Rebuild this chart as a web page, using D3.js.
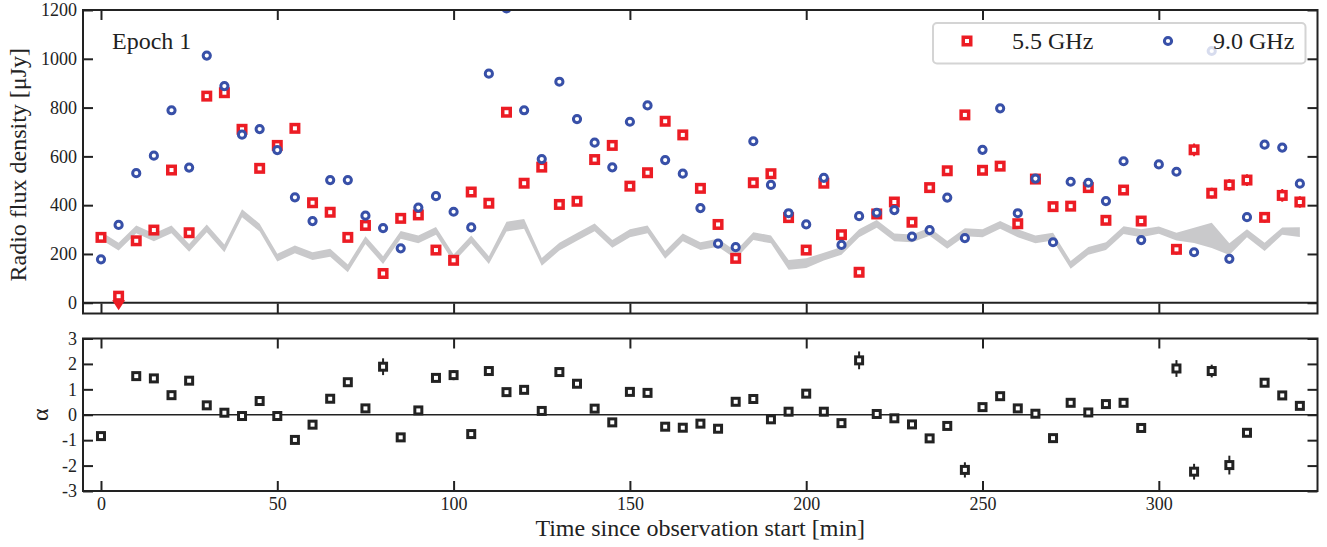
<!DOCTYPE html>
<html>
<head>
<meta charset="utf-8">
<script src="https://cdn.jsdelivr.net/npm/d3@7"></script>
<style>
  body { margin: 0; background: #fff; }
  svg { display: block; }
  text { font-family: "Liberation Serif", "Times New Roman", serif; fill: #222; }
</style>
</head>
<body>
<div id="chart"></div>
<script>
// Observation times [min]
const times = [
    0, 5, 10, 15, 20, 25, 30, 35, 40, 45,
    50, 55, 60, 65, 70, 75, 80, 85, 90, 95,
    100, 105, 110, 115, 120, 125, 130, 135, 140, 145,
    150, 155, 160, 165, 170, 175, 180, 185, 190, 195,
    200, 205, 210, 215, 220, 225, 230, 235, 240, 245,
    250, 255, 260, 265, 270, 275, 280, 285, 290, 295,
    300, 305, 310, 315, 320, 325, 330, 335, 340
];

// 5.5 GHz flux density [uJy] (null = no point)
const flux55 = [
    268, 27, 254, 298, 544, 287, 847, 861, 711, 551,
    645, 715, 410, 371, 268, 317, 120, 346, 360, 216,
    174, 454, 408, 781, 490, 556, 403, 416, 587, 645,
    478, 533, 744, 688, 469, 321, 182, 492, 529, 349,
    216, 490, 279, 125, 364, 413, 330, 472, 541, 770,
    543, 560, 324, 507, 394, 396, 472, 338, 462, 335,
    null, 219, 627, 449, 483, 503, 350, 440, 413
];
const err55 = [
    0, 0, 0, 0, 0, 0, 0, 0, 0, 0,
    0, 0, 0, 0, 0, 0, 0, 0, 0, 0,
    0, 0, 0, 0, 0, 0, 0, 0, 0, 0,
    0, 0, 0, 0, 0, 0, 0, 0, 0, 0,
    0, 0, 0, 0, 0, 0, 0, 0, 0, 0,
    0, 0, 0, 0, 0, 0, 0, 0, 0, 0,
    0, 22, 26, 22, 24, 24, 22, 26, 24
];
// times where the 5.5 GHz value is an upper limit
const limits55 = [5];

// 9.0 GHz flux density [uJy]
const flux90 = [
    178, 319, 531, 603, 789, 554, 1013, 888, 689, 712,
    626, 432, 335, 503, 503, 357, 306, 223, 390, 437,
    373, 309, 939, 1207, 789, 589, 906, 753, 656, 555,
    742, 809, 585, 529, 388, 242, 228, 662, 483, 367,
    321, 512, 237, 355, 369, 380, 271, 298, 431, 265,
    627, 797, 367, 509, 248, 496, 492, 417, 580, 257,
    567, 537, 207, 1032, 180, 351, 648, 636, 488
];

// noise band (grey) lower / upper edge [uJy]
const bandLo = [
    259, 214, 285, 252, 285, 209, 289, 207, 351, 292,
    169, 203, 175, 189, 125, 241, 159, 262, 244, 279,
    166, 244, 159, 292, 303, 152, 214, 254, 293, 225,
    269, 285, 180, 252, 216, 230, 180, 257, 244, 135,
    142, 173, 197, 269, 307, 252, 248, 275, 221, 273,
    269, 303, 269, 244, 255, 139, 197, 216, 282, 269,
    283, 255, 245, 224, 196, 269, 212, 279, 270
];
const bandHi = [
    291, 246, 317, 284, 317, 241, 321, 239, 383, 324,
    201, 235, 207, 221, 157, 273, 191, 294, 276, 311,
    198, 276, 191, 332, 343, 184, 246, 286, 325, 257,
    301, 317, 212, 284, 248, 262, 212, 289, 276, 175,
    182, 205, 229, 301, 339, 284, 280, 307, 253, 305,
    301, 335, 301, 276, 287, 171, 229, 248, 314, 301,
    313, 287, 307, 328, 244, 301, 246, 309, 310
];

// spectral index alpha and its error
const alpha = [
    -0.84, null, 1.52, 1.43, 0.77, 1.34, 0.37, 0.08, -0.05, 0.54,
    -0.05, -0.99, -0.39, 0.63, 1.28, 0.25, 1.89, -0.89, 0.17, 1.45,
    1.56, -0.76, 1.72, 0.89, 0.98, 0.15, 1.68, 1.22, 0.24, -0.30,
    0.90, 0.86, -0.47, -0.51, -0.35, -0.55, 0.51, 0.62, -0.18, 0.12,
    0.83, 0.12, -0.33, 2.14, 0.03, -0.14, -0.38, -0.93, -0.44, -2.17,
    0.30, 0.73, 0.25, 0.04, -0.92, 0.47, 0.09, 0.42, 0.47, -0.52,
    null, 1.82, -2.24, 1.72, -1.98, -0.71, 1.26, 0.76, 0.35
];
const alphaErr = [
    0.1, 0, 0.1, 0.1, 0.1, 0.1, 0.1, 0.1, 0.1, 0.1,
    0.1, 0.1, 0.1, 0.1, 0.1, 0.1, 0.33, 0.1, 0.1, 0.1,
    0.2, 0.1, 0.12, 0.1, 0.1, 0.1, 0.1, 0.1, 0.1, 0.1,
    0.1, 0.1, 0.1, 0.1, 0.1, 0.1, 0.1, 0.1, 0.1, 0.1,
    0.1, 0.1, 0.1, 0.35, 0.1, 0.1, 0.1, 0.1, 0.1, 0.3,
    0.1, 0.1, 0.1, 0.1, 0.1, 0.1, 0.1, 0.1, 0.1, 0.1,
    0, 0.33, 0.31, 0.25, 0.37, 0.15, 0.15, 0.15, 0.15
];

const xTicks = [0, 50, 100, 150, 200, 250, 300];
const fluxTicks = [0, 200, 400, 600, 800, 1000, 1200];
const alphaTicks = [-3, -2, -1, 0, 1, 2, 3];
const seriesNames = ["5.5 GHz", "9.0 GHz"];

const RED = "#ec1c24", BLUE = "#3850a8", INK = "#222";

// layout
const width = 1327, height = 547;
const left = 83, right = 1317.5;
const top1 = 10, bot1 = 313.5, top2 = 338.5, bot2 = 491;

const x = d3.scaleLinear().domain([-5.1, 345]).range([left, right]);
const yF = d3.scaleLinear().domain([-44, 1200]).range([bot1, top1]);
const yA = d3.scaleLinear().domain([-3, 3]).range([bot2, top2]);

const svg = d3.select("#chart").append("svg")
    .attr("width", width)
    .attr("height", height);

svg.append("rect").attr("width", width).attr("height", height).attr("fill", "#fff");

svg.append("clipPath").attr("id", "clipTop")
    .append("rect")
    .attr("x", left).attr("y", top1)
    .attr("width", right - left).attr("height", bot1 - top1);

// rows of data
const rows = times.map((t, i) => ({
    t, f55: flux55[i], e55: err55[i], f90: flux90[i],
    lo: bandLo[i], hi: bandHi[i], a: alpha[i], ae: alphaErr[i]
}));

// ---------- top panel ----------
const topPanel = svg.append("g").attr("clip-path", "url(#clipTop)");

// noise band
topPanel.append("path")
    .datum(rows)
    .attr("fill", "#c9c9cb")
    .attr("d", d3.area()
        .x(d => x(d.t))
        .y0(d => yF(d.lo))
        .y1(d => yF(d.hi)));

// zero line
topPanel.append("line")
    .attr("x1", left).attr("x2", right)
    .attr("y1", yF(0)).attr("y2", yF(0))
    .attr("stroke", INK).attr("stroke-width", 2);

const red = rows.filter(d => d.f55 !== null);

// error bars on 5.5 GHz
topPanel.selectAll(".err55")
    .data(red.filter(d => d.e55 > 0))
    .enter().append("line")
    .attr("x1", d => x(d.t)).attr("x2", d => x(d.t))
    .attr("y1", d => yF(d.f55 - d.e55)).attr("y2", d => yF(d.f55 + d.e55))
    .attr("stroke", RED).attr("stroke-width", 2);

// upper limit arrows
topPanel.selectAll(".limit")
    .data(red.filter(d => limits55.includes(d.t)))
    .enter().append("path")
    .attr("fill", RED)
    .attr("d", d => {
        const cx = x(d.t), cy = yF(d.f55);
        return `M${cx - 6.5},${cy + 4}L${cx + 6.5},${cy + 4}L${cx},${cy + 14}Z`;
    });

// 5.5 GHz squares
topPanel.selectAll(".sq55")
    .data(red)
    .enter().append("rect")
    .attr("x", d => x(d.t) - 3.75)
    .attr("y", d => yF(d.f55) - 3.75)
    .attr("width", 7.5).attr("height", 7.5)
    .attr("fill", "#fff")
    .attr("stroke", RED).attr("stroke-width", 3.5);

// 9.0 GHz circles
topPanel.selectAll(".c90")
    .data(rows.filter(d => d.f90 !== null))
    .enter().append("circle")
    .attr("cx", d => x(d.t))
    .attr("cy", d => yF(d.f90))
    .attr("r", 3.6)
    .attr("fill", "#fff")
    .attr("stroke", BLUE).attr("stroke-width", 3);

// ---------- bottom panel ----------
const botPanel = svg.append("g");

botPanel.append("line")
    .attr("x1", left).attr("x2", right)
    .attr("y1", yA(0)).attr("y2", yA(0))
    .attr("stroke", INK).attr("stroke-width", 1.6);

const alp = rows.filter(d => d.a !== null);

botPanel.selectAll(".aerr")
    .data(alp)
    .enter().append("line")
    .attr("x1", d => x(d.t)).attr("x2", d => x(d.t))
    .attr("y1", d => yA(d.a - d.ae)).attr("y2", d => yA(d.a + d.ae))
    .attr("stroke", INK).attr("stroke-width", 2);

botPanel.selectAll(".asq")
    .data(alp)
    .enter().append("rect")
    .attr("x", d => x(d.t) - 3.5)
    .attr("y", d => yA(d.a) - 3.5)
    .attr("width", 7).attr("height", 7)
    .attr("fill", "#fff")
    .attr("stroke", INK).attr("stroke-width", 3);

// ---------- axes ----------
function styleAxis(g) {
    g.select(".domain").remove();
    g.attr("font-family", "Liberation Serif, serif").attr("font-size", 18);
    g.selectAll(".tick line").attr("stroke", INK).attr("stroke-width", 2);
    g.selectAll(".tick text").attr("fill", INK);
}

// top panel axes
svg.append("g").attr("transform", `translate(0,${top1})`)
    .call(d3.axisTop(x).tickValues(xTicks).tickSize(-10).tickFormat(""))
    .call(styleAxis);
svg.append("g").attr("transform", `translate(0,${bot1})`)
    .call(d3.axisBottom(x).tickValues(xTicks).tickSize(-10).tickFormat(""))
    .call(styleAxis);
svg.append("g").attr("transform", `translate(${left},0)`)
    .call(d3.axisLeft(yF).tickValues(fluxTicks).tickSize(-10).tickPadding(6).tickFormat(d => String(d)))
    .call(styleAxis);
svg.append("g").attr("transform", `translate(${right},0)`)
    .call(d3.axisRight(yF).tickValues(fluxTicks).tickSize(-10).tickFormat(""))
    .call(styleAxis);

// bottom panel axes
svg.append("g").attr("transform", `translate(0,${top2})`)
    .call(d3.axisTop(x).tickValues(xTicks).tickSize(-10).tickFormat(""))
    .call(styleAxis);
svg.append("g").attr("transform", `translate(0,${bot2})`)
    .call(d3.axisBottom(x).tickValues(xTicks).tickSize(-10).tickPadding(6).tickFormat(d => String(d)))
    .call(styleAxis);
svg.append("g").attr("transform", `translate(${left},0)`)
    .call(d3.axisLeft(yA).tickValues(alphaTicks).tickSize(-10).tickPadding(6).tickFormat(d => String(d)))
    .call(styleAxis);
svg.append("g").attr("transform", `translate(${right},0)`)
    .call(d3.axisRight(yA).tickValues(alphaTicks).tickSize(-10).tickFormat(""))
    .call(styleAxis);

// frames
[[top1, bot1], [top2, bot2]].forEach(([a, b]) => {
    svg.append("rect")
        .attr("x", left).attr("y", a)
        .attr("width", right - left).attr("height", b - a)
        .attr("fill", "none")
        .attr("stroke", INK).attr("stroke-width", 2);
});

// ---------- labels ----------
svg.append("text")
    .attr("transform", `translate(26,${(top1 + bot1) / 2 + 3}) rotate(-90)`)
    .attr("text-anchor", "middle")
    .attr("font-size", 24)
    .text("Radio flux density [μJy]");

svg.append("text")
    .attr("transform", `translate(48,${yA(0)}) rotate(-90)`)
    .attr("text-anchor", "middle")
    .attr("font-size", 24)
    .text("α");

svg.append("text")
    .attr("x", (left + right) / 2)
    .attr("y", 536)
    .attr("text-anchor", "middle")
    .attr("font-size", 24)
    .text("Time since observation start [min]");

svg.append("text")
    .attr("x", 112).attr("y", 49)
    .attr("font-size", 24)
    .text("Epoch 1");

// ---------- legend ----------
const legend = svg.append("g");
legend.append("rect")
    .attr("x", 933).attr("y", 23)
    .attr("width", 372.5).attr("height", 40.5)
    .attr("rx", 4)
    .attr("fill", "#fff").attr("fill-opacity", 0.8)
    .attr("stroke", "#d4d4d4").attr("stroke-width", 2);

legend.append("rect")
    .attr("x", 967 - 3.75).attr("y", 41 - 3.75)
    .attr("width", 7.5).attr("height", 7.5)
    .attr("fill", "#fff").attr("stroke", RED).attr("stroke-width", 3.5);
legend.append("text").attr("x", 1012).attr("y", 49).attr("font-size", 24).text(seriesNames[0]);

legend.append("circle")
    .attr("cx", 1168).attr("cy", 41).attr("r", 3.6)
    .attr("fill", "#fff").attr("stroke", BLUE).attr("stroke-width", 3);
legend.append("text").attr("x", 1213).attr("y", 49).attr("font-size", 24).text(seriesNames[1]);
</script>
</body>
</html>
